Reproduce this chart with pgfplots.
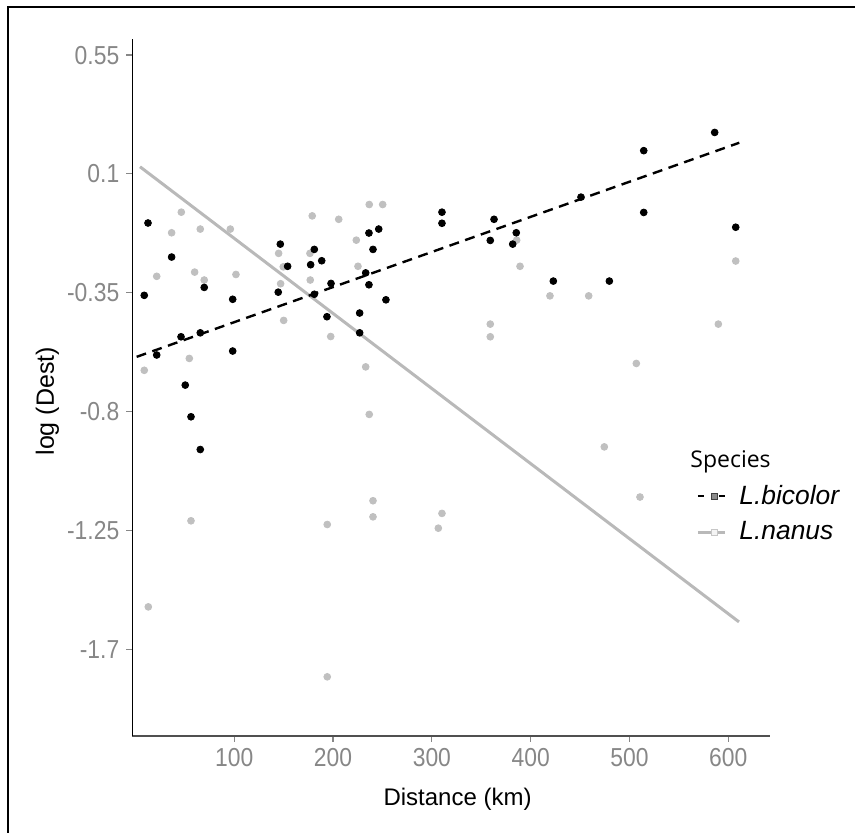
\documentclass[border=0pt]{standalone}
\usepackage{fontspec}
\setmainfont{Liberation Sans}
\newfontfamily\tickfont[FakeStretch=0.88]{Liberation Sans}
\newfontfamily\titlefont{Open Sans}
\usepackage{pgfplots}
\pgfplotsset{compat=1.18}
\definecolor{tickgray}{RGB}{135,135,135}
\definecolor{ptgray}{RGB}{192,192,192}
\definecolor{lngray}{RGB}{185,185,185}
\definecolor{xaxgray}{RGB}{80,80,80}
\begin{document}
\begin{tikzpicture}
\path[use as bounding box] (0pt,0pt) rectangle (427.5pt,416.5pt);
\draw[black, line width=0.85pt] (4.15pt,0pt) -- (4.15pt,413.15pt) -- (427.5pt,413.15pt);
\begin{axis}[
  at={(66.15pt,48.65pt)}, anchor=south west,
  scale only axis, width=318.85pt, height=348.35pt,
  xmin=-3.2, xmax=642.2, ymin=-2.028, ymax=0.611,
  axis x line*=bottom, axis y line*=left,
  x axis line style={-, draw=xaxgray, line width=0.9pt},
  y axis line style={-, draw=black, line width=0.7pt},
  xtick={100,200,300,400,500,600},
  xticklabels={100,200,300,400,500,600},
  ytick={0.55,0.1,-0.35,-0.8,-1.25,-1.7},
  yticklabels={0.55,0.1,-0.35,-0.8,-1.25,-1.7},
  tick align=outside, major tick length=3pt,
  tick style={draw=tickgray, line width=0.6pt},
  ticklabel style={font=\tickfont\fontsize{13}{13}\selectfont, text=tickgray},
  xlabel={Distance (km)}, ylabel={log (Dest)},
  xlabel style={font=\fontsize{12}{12}\selectfont, at={(axis description cs:0.51,0)}, anchor=center, yshift=-32pt},
  ylabel style={font=\fontsize{12.5}{12.5}\selectfont, at={(axis description cs:-0.1333,0.48)}, anchor=center},
  legend cell align=left,
  legend style={at={(axis description cs:0.884,0.415)}, anchor=north west, draw=none, fill=none,
    font=\fontsize{13.2}{14}\selectfont, row sep=3.2pt, inner sep=0pt},
]
% legend entries
\addlegendimage{empty legend}
\addlegendentry{\hspace*{-20pt}{\titlefont\fontsize{11.5}{14}\selectfont Species}}
\addlegendimage{legend image code/.code={
  \draw[black, line width=1pt, dash pattern=on 3pt off 7.5pt] (0pt,0pt) -- (13.5pt,0pt);
  \node[draw=black!75, fill=black!45, inner sep=0pt, minimum size=3pt, line width=0.4pt] at (6.75pt,0pt) {};}}
\addlegendentry{\hspace*{4.5pt}\textit{L.bicolor}}
\addlegendimage{legend image code/.code={
  \draw[lngray, line width=1.5pt] (0pt,0pt) -- (13.5pt,0pt);
  \node[draw=lngray!80, fill=white!85!lngray, inner sep=0pt, minimum size=3pt, line width=0.4pt] at (6.75pt,0pt) {};}}
\addlegendentry{\hspace*{4.5pt}\textit{L.nanus}}
% L.nanus points
\addplot[forget plot, only marks, mark=*, mark size=1.7pt, mark options={draw=ptgray, fill=ptgray}] coordinates {
(46.4,-0.045) (36.6,-0.123) (65.6,-0.109) (96.0,-0.109) (21.5,-0.288) (59.9,-0.272)
(69.6,-0.302) (101.7,-0.281) (8.9,-0.644) (54.5,-0.599) (144.9,-0.201) (149.6,-0.252)
(146.9,-0.316) (150.0,-0.455) (178.9,-0.059) (176.6,-0.201) (176.9,-0.302) (197.6,-0.516)
(205.7,-0.072) (223.5,-0.151) (225.2,-0.250) (233.0,-0.631) (236.6,-0.016) (250.2,-0.016)
(385.8,-0.151) (389.2,-0.250) (419.5,-0.362) (458.7,-0.362) (359.1,-0.469) (359.1,-0.517)
(506.9,-0.618) (589.9,-0.469) (607.5,-0.230) (236.6,-0.811) (240.4,-1.138) (240.4,-1.199)
(56.2,-1.214) (194.1,-1.228) (310.2,-1.186) (306.5,-1.242) (13.0,-1.540) (194.1,-1.805)
(474.5,-0.934) (510.6,-1.124)
};
% L.bicolor points
\addplot[forget plot, only marks, mark=*, mark size=1.7pt, mark options={draw=black, fill=black}] coordinates {
(12.7,-0.086) (36.6,-0.215) (8.9,-0.360) (69.6,-0.330) (98.4,-0.375) (46.1,-0.517)
(65.6,-0.502) (21.5,-0.586) (98.4,-0.571) (50.4,-0.700) (56.2,-0.820) (65.6,-0.944)
(146.6,-0.166) (154.0,-0.250) (144.5,-0.348) (181.0,-0.186) (177.3,-0.244) (188.5,-0.229)
(181.0,-0.356) (197.9,-0.315) (193.8,-0.441) (226.9,-0.427) (226.9,-0.502) (236.3,-0.124)
(246.2,-0.109) (240.4,-0.186) (233.0,-0.275) (236.3,-0.320) (253.5,-0.377) (310.2,-0.045)
(310.2,-0.087) (362.9,-0.072) (359.1,-0.152) (385.4,-0.123) (381.8,-0.166) (422.9,-0.306)
(450.9,0.012) (479.6,-0.306) (514.4,0.188) (514.4,-0.046) (586.2,0.257) (607.5,-0.102)
};
% fitted lines
\addplot[forget plot, lngray, line width=1.5pt] coordinates {(4.6,0.127) (610.8,-1.597)};
\addplot[forget plot, black, line width=1.2pt, dash pattern=on 5pt off 3.3pt] coordinates {(1.2,-0.593) (611.1,0.218)};
\end{axis}
\end{tikzpicture}
\end{document}
